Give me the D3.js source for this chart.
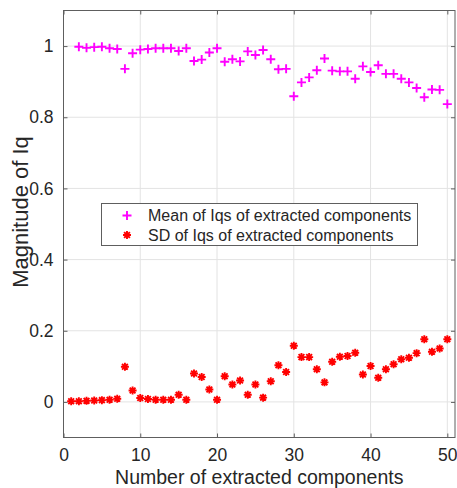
<!DOCTYPE html>
<html>
<head>
<meta charset="utf-8">
<script src="https://cdn.jsdelivr.net/npm/d3@7"></script>
<style>
  html, body { margin: 0; padding: 0; background: #fff; }
  svg text { font-family: "Liberation Sans", Arial, Helvetica, sans-serif; fill: #262626; }
</style>
</head>
<body>
<div id="container"></div>
<script>
// number of extracted components
const components = [1, 2, 3, 4, 5, 6, 7, 8, 9, 10, 11, 12, 13, 14, 15, 16, 17, 18, 19, 20,
  21, 22, 23, 24, 25, 26, 27, 28, 29, 30, 31, 32, 33, 34, 35, 36, 37, 38, 39, 40,
  41, 42, 43, 44, 45, 46, 47, 48, 49, 50];

// mean of Iqs (no value for 1 component)
const meanIq = [null, 0.998, 0.995, 0.997, 0.998, 0.994, 0.992, 0.936, 0.980, 0.990,
  0.992, 0.994, 0.994, 0.994, 0.986, 0.994, 0.958, 0.962, 0.982, 0.994,
  0.956, 0.963, 0.957, 0.985, 0.975, 0.989, 0.963, 0.935, 0.936, 0.859,
  0.898, 0.912, 0.932, 0.965, 0.931, 0.929, 0.929, 0.908, 0.943, 0.927,
  0.946, 0.922, 0.922, 0.908, 0.898, 0.882, 0.856, 0.878, 0.877, 0.837];

// SD of Iqs
const sdIq = [0.002, 0.002, 0.003, 0.004, 0.005, 0.006, 0.009, 0.099, 0.032, 0.011,
  0.008, 0.006, 0.006, 0.006, 0.020, 0.006, 0.080, 0.070, 0.035, 0.006,
  0.072, 0.049, 0.060, 0.020, 0.049, 0.012, 0.058, 0.103, 0.084, 0.158,
  0.126, 0.126, 0.092, 0.055, 0.113, 0.127, 0.129, 0.138, 0.077, 0.101,
  0.068, 0.092, 0.106, 0.120, 0.124, 0.137, 0.176, 0.141, 0.150, 0.176];

const xTicks = [0, 10, 20, 30, 40, 50];
const yTicks = [0, 0.2, 0.4, 0.6, 0.8, 1];
const legendLabels = ["Mean of Iqs of extracted components", "SD of Iqs of extracted components"];

const width = 457, height = 488;
const plotLeft = 63.5, plotRight = 455, plotTop = 10.5, plotBottom = 437.5;
const axisColor = "#5e5e5e";

const svg = d3.select("#container")
  .append("svg")
  .attr("width", width)
  .attr("height", height);

const x = d3.scaleLinear().domain([0, 51]).range([plotLeft, plotRight]);
const y = d3.scaleLinear().domain([-0.1, 1.1]).range([plotBottom, plotTop]);

// grid
let grid = svg.append("g");
xTicks.forEach(t => {
  grid.append("line")
    .attr("x1", x(t)).attr("x2", x(t))
    .attr("y1", plotTop).attr("y2", plotBottom)
    .attr("stroke", "#e3e3e3").attr("stroke-width", 1);
});
yTicks.forEach(t => {
  grid.append("line")
    .attr("x1", plotLeft).attr("x2", plotRight)
    .attr("y1", y(t)).attr("y2", y(t))
    .attr("stroke", "#e3e3e3").attr("stroke-width", 1);
});

// axes (ticks inward, box on)
let styleAxis = g => {
  g.select(".domain").remove();
  g.selectAll(".tick line").attr("stroke", axisColor);
  g.selectAll(".tick text")
    .style("font-size", "17.5px")
    .attr("fill", "#262626");
};

svg.append("g")
  .attr("transform", `translate(0,${plotBottom})`)
  .call(d3.axisBottom(x).tickValues(xTicks).tickSizeInner(-4).tickSizeOuter(0).tickPadding(11))
  .call(styleAxis);

svg.append("g")
  .attr("transform", `translate(0,${plotTop})`)
  .call(d3.axisTop(x).tickValues(xTicks).tickSizeInner(-4).tickSizeOuter(0).tickFormat(""))
  .call(styleAxis);

svg.append("g")
  .attr("transform", `translate(${plotLeft},0)`)
  .call(d3.axisLeft(y).tickValues(yTicks).tickSizeInner(-4).tickSizeOuter(0).tickPadding(10)
    .tickFormat(d => d3.format("~g")(d)))
  .call(styleAxis);

svg.append("g")
  .attr("transform", `translate(${plotRight},0)`)
  .call(d3.axisRight(y).tickValues(yTicks).tickSizeInner(-4).tickSizeOuter(0).tickFormat(""))
  .call(styleAxis);

svg.append("rect")
  .attr("x", plotLeft).attr("y", plotTop)
  .attr("width", plotRight - plotLeft).attr("height", plotBottom - plotTop)
  .attr("fill", "none")
  .attr("stroke", axisColor)
  .attr("stroke-width", 1);

// markers
let plusPath = s => `M${-s},0H${s}M0,${-s}V${s}`;
let starPath = s => {
  let d = s * 0.72;
  return `M${-s},0H${s}M0,${-s}V${s}M${-d},${-d}L${d},${d}M${-d},${d}L${d},${-d}`;
};

const meanData = components.map((c, i) => ({ c: c, v: meanIq[i] })).filter(d => d.v != null);
const sdData = components.map((c, i) => ({ c: c, v: sdIq[i] }));

svg.append("g")
  .selectAll("path")
  .data(meanData)
  .join("path")
  .attr("transform", d => `translate(${x(d.c)},${y(d.v)})`)
  .attr("d", plusPath(4.5))
  .attr("stroke", "#ff00ff")
  .attr("stroke-width", 1.9)
  .attr("fill", "none");

svg.append("g")
  .selectAll("path")
  .data(sdData)
  .join("path")
  .attr("transform", d => `translate(${x(d.c)},${y(d.v)})`)
  .attr("d", starPath(4))
  .attr("stroke", "#ff0000")
  .attr("stroke-width", 1.9)
  .attr("fill", "none");

// legend
let legend = svg.append("g");
legend.append("rect")
  .attr("x", 101.5).attr("y", 203.5)
  .attr("width", 316).attr("height", 42)
  .attr("fill", "#fff")
  .attr("stroke", axisColor)
  .attr("stroke-width", 1);

const legendRows = [215.5, 235];
legend.append("path")
  .attr("transform", `translate(127,${legendRows[0]})`)
  .attr("d", plusPath(4.5))
  .attr("stroke", "#ff00ff").attr("stroke-width", 1.9).attr("fill", "none");
legend.append("path")
  .attr("transform", `translate(127,${legendRows[1]})`)
  .attr("d", starPath(4))
  .attr("stroke", "#ff0000").attr("stroke-width", 1.9).attr("fill", "none");

legendLabels.forEach((label, i) => {
  legend.append("text")
    .attr("x", 148)
    .attr("y", legendRows[i])
    .attr("dy", "0.35em")
    .style("font-size", "16px")
    .text(label);
});

// axis labels
svg.append("text")
  .attr("x", (plotLeft + plotRight) / 2)
  .attr("y", 484)
  .attr("text-anchor", "middle")
  .style("font-size", "19.5px")
  .text("Number of extracted components");

svg.append("text")
  .attr("transform", `translate(28,212) rotate(-90)`)
  .attr("text-anchor", "middle")
  .style("font-size", "22px")
  .text("Magnitude of Iq");
</script>
</body>
</html>
